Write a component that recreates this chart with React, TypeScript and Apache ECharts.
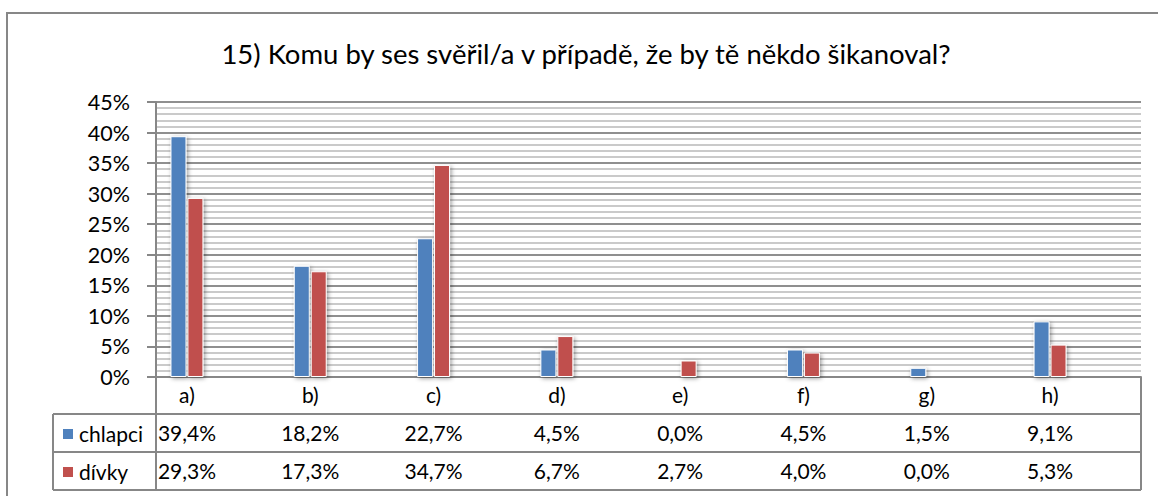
import React, { useEffect, useRef } from "react";
import * as echarts from "echarts";

const titleText = "15) Komu by ses svěřil/a v případě, že by tě někdo šikanoval?";
const categories = ["a)", "b)", "c)", "d)", "e)", "f)", "g)", "h)"];
const seriesNames = ["chlapci", "dívky"];
const chlapci = [39.4, 18.2, 22.7, 4.5, 0.0, 4.5, 1.5, 9.1];
const divky = [29.3, 17.3, 34.7, 6.7, 2.7, 4.0, 0.0, 5.3];
const yMin = 0;
const yMax = 45;
const yStep = 5;

const BLUE = "#4F81BD";
const RED = "#C0504D";
const LINE = "#878787";
const FONT = "Lato";

const fmt = (v: number) => v.toFixed(1).replace(".", ",") + "%";

export default function App() {
  const ref = useRef<HTMLDivElement>(null);

  useEffect(() => {
    document.body.style.margin = "0";
    if (!ref.current) return;
    const chart = echarts.init(ref.current, null, { renderer: "svg" });

    const barStyle = (color: string) => ({
      color,
      borderColor: "#ffffff",
      borderWidth: 1,
      shadowColor: "rgba(0,0,0,0.4)",
      shadowBlur: 4,
      shadowOffsetX: 1.5,
      shadowOffsetY: 1.5,
    });

    const tableAxis = (data: string[], offset: number) => ({
      gridIndex: 1,
      type: "category",
      data,
      position: "bottom",
      offset,
      axisLine: { show: false },
      axisTick: { show: false },
      splitLine: { show: false },
      axisLabel: { fontSize: 21, color: "#000", fontFamily: FONT, margin: 7, interval: 0 },
    });

    const line = (x1: number, y1: number, x2: number, y2: number) => ({
      type: "line",
      shape: { x1, y1, x2, y2 },
      style: { stroke: LINE, lineWidth: 2 },
      z: 10,
    });

    chart.setOption({
      animation: false,
      backgroundColor: "#ffffff",
      grid: [
        { left: 156, top: 102, width: 985, height: 275, containLabel: false },
        { left: 125.3, top: 102, width: 986.4, height: 275, containLabel: false },
      ],
      xAxis: [
        {
          gridIndex: 0,
          type: "value",
          min: 0,
          max: 1,
          axisLine: { show: true, lineStyle: { color: LINE, width: 2 } },
          axisTick: { show: false },
          axisLabel: { show: false },
          splitLine: { show: false },
        },
        tableAxis(categories, 0),
        tableAxis(chlapci.map(fmt), 38),
        tableAxis(divky.map(fmt), 76),
      ],
      yAxis: [
        {
          gridIndex: 0,
          type: "value",
          min: yMin,
          max: yMax,
          interval: yStep,
          axisLine: { show: true, lineStyle: { color: LINE, width: 2 } },
          axisTick: { show: true, length: 9, lineStyle: { color: LINE, width: 2 } },
          axisLabel: {
            formatter: "{value}%",
            fontSize: 21.5,
            color: "#000",
            fontFamily: FONT,
            margin: 26,
          },
          splitLine: { show: true, lineStyle: { color: "#8f8f8f", width: 2 } },
          minorTick: { show: false, splitNumber: 5 },
          minorSplitLine: { show: true, lineStyle: { color: "#b9b9b9", width: 1.5 } },
        },
        { gridIndex: 1, type: "value", min: yMin, max: yMax, show: false },
      ],
      series: [
        {
          type: "bar",
          name: seriesNames[0],
          xAxisIndex: 1,
          yAxisIndex: 1,
          data: chlapci,
          barWidth: 16,
          barGap: "6%",
          itemStyle: barStyle(BLUE),
        },
        {
          type: "bar",
          name: seriesNames[1],
          xAxisIndex: 1,
          yAxisIndex: 1,
          data: divky,
          barWidth: 16,
          barGap: "6%",
          itemStyle: barStyle(RED),
        },
      ],
      graphic: [
        {
          type: "rect",
          shape: { x: 7, y: 13, width: 1300, height: 700 },
          style: { fill: "none", stroke: LINE, lineWidth: 2 },
          z: 10,
        },
        {
          type: "text",
          x: 586,
          y: 53,
          style: {
            text: titleText,
            fontSize: 27.5,
            fontFamily: FONT,
            fill: "#000",
            align: "center",
            verticalAlign: "middle",
          },
        },
        line(53, 414, 1141, 414),
        line(53, 452, 1141, 452),
        line(53, 490, 1141, 490),
        line(53, 414, 53, 490),
        line(156, 377, 156, 490),
        line(1141, 377, 1141, 490),
        {
          type: "rect",
          shape: { x: 63, y: 429, width: 10, height: 10 },
          style: { fill: BLUE },
        },
        {
          type: "rect",
          shape: { x: 63, y: 467, width: 10, height: 10 },
          style: { fill: RED },
        },
        {
          type: "text",
          x: 79,
          y: 433,
          style: {
            text: seriesNames[0],
            fontSize: 21,
            fontFamily: FONT,
            fill: "#000",
            verticalAlign: "middle",
          },
        },
        {
          type: "text",
          x: 79,
          y: 471,
          style: {
            text: seriesNames[1],
            fontSize: 21,
            fontFamily: FONT,
            fill: "#000",
            verticalAlign: "middle",
          },
        },
      ],
    });

    return () => chart.dispose();
  }, []);

  return <div ref={ref} style={{ width: 1158, height: 496 }} />;
}
